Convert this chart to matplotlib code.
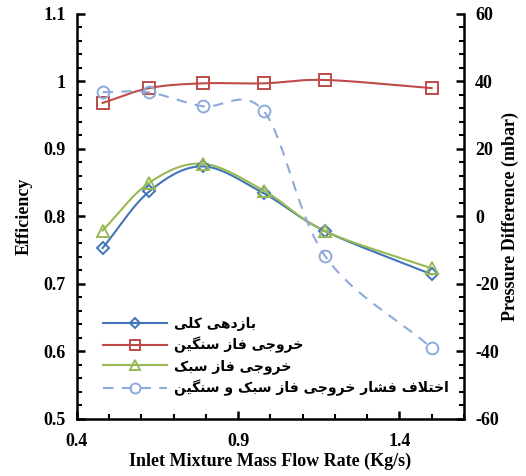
import numpy as np
import matplotlib
matplotlib.use("Agg")
import matplotlib.pyplot as plt
from matplotlib.lines import Line2D
from matplotlib.ticker import MultipleLocator

# mass flow rate of the inlet mixture (kg/s)
flow = [0.48, 0.625, 0.79, 0.98, 1.17, 1.5]

# separation efficiencies
eff_total = [0.753, 0.837, 0.874, 0.834, 0.778, 0.714]
eff_heavy = [0.968, 0.990, 0.997, 0.997, 1.002, 0.990]
eff_light = [0.779, 0.850, 0.878, 0.838, 0.778, 0.723]

# outlet pressure difference between light and heavy phase (mbar)
dp = [36.8, 36.7, 32.6, 31.1, -11.8, -39.0]

labels = [
    "بازدهی کلی",
    "خروجی فاز سنگین",
    "خروجی فاز سبک",
    "اختلاف فشار خروجی فاز سبک و سنگین",
]

# --- minimal Persian shaping (matplotlib has no RTL / joining support) ---
FORMS = {  # isolated, final, initial, medial
    "ا": ("\uFE8D", "\uFE8E", None, None),
    "ب": ("\uFE8F", "\uFE90", "\uFE91", "\uFE92"),
    "ت": ("\uFE95", "\uFE96", "\uFE97", "\uFE98"),
    "ج": ("\uFE9D", "\uFE9E", "\uFE9F", "\uFEA0"),
    "خ": ("\uFEA5", "\uFEA6", "\uFEA7", "\uFEA8"),
    "د": ("\uFEA9", "\uFEAA", None, None),
    "ر": ("\uFEAD", "\uFEAE", None, None),
    "ز": ("\uFEAF", "\uFEB0", None, None),
    "س": ("\uFEB1", "\uFEB2", "\uFEB3", "\uFEB4"),
    "ش": ("\uFEB5", "\uFEB6", "\uFEB7", "\uFEB8"),
    "ف": ("\uFED1", "\uFED2", "\uFED3", "\uFED4"),
    "ک": ("\uFB8E", "\uFB8F", "\uFB90", "\uFB91"),
    "گ": ("\uFB92", "\uFB93", "\uFB94", "\uFB95"),
    "ل": ("\uFEDD", "\uFEDE", "\uFEDF", "\uFEE0"),
    "ن": ("\uFEE5", "\uFEE6", "\uFEE7", "\uFEE8"),
    "ه": ("\uFEE9", "\uFEEA", "\uFEEB", "\uFEEC"),
    "و": ("\uFEED", "\uFEEE", None, None),
    "ی": ("\uFBFC", "\uFBFD", "\uFBFE", "\uFBFF"),
}
LAM_ALEF = ("\uFEFB", "\uFEFC")


def dual(c):
    return c in FORMS and FORMS[c][2] is not None


def shape(text):
    chars = list(text)
    out = []
    i = 0
    while i < len(chars):
        c = chars[i]
        prev = chars[i - 1] if i > 0 else " "
        joins_prev = dual(prev) and c in FORMS
        if c == "ل" and i + 1 < len(chars) and chars[i + 1] == "ا":
            out.append(LAM_ALEF[1] if joins_prev else LAM_ALEF[0])
            i += 2
            continue
        if c not in FORMS:
            out.append(c)
            i += 1
            continue
        nxt = chars[i + 1] if i + 1 < len(chars) else " "
        joins_next = dual(c) and nxt in FORMS
        iso, fin, ini, med = FORMS[c]
        if joins_prev and joins_next:
            out.append(med)
        elif joins_prev:
            out.append(fin)
        elif joins_next:
            out.append(ini)
        else:
            out.append(iso)
        i += 1
    return "".join(reversed(out))


def smooth(x, y, n=30):
    # Catmull-Rom curve through the points, like spreadsheet "smoothed lines"
    x = np.asarray(x, float)
    y = np.asarray(y, float)
    px = np.concatenate([[2 * x[0] - x[1]], x, [2 * x[-1] - x[-2]]])
    py = np.concatenate([[2 * y[0] - y[1]], y, [2 * y[-1] - y[-2]]])
    xs, ys = [], []
    t = np.linspace(0, 1, n)
    for k in range(1, len(px) - 2):
        for p, acc in ((px, xs), (py, ys)):
            p0, p1, p2, p3 = p[k - 1], p[k], p[k + 1], p[k + 2]
            acc.extend(0.5 * ((2 * p1) + (-p0 + p2) * t
                              + (2 * p0 - 5 * p1 + 4 * p2 - p3) * t ** 2
                              + (-p0 + 3 * p1 - 3 * p2 + p3) * t ** 3))
    return np.array(xs), np.array(ys)


plt.rcParams["font.family"] = ["Liberation Serif"]
plt.rcParams["font.weight"] = "bold"
plt.rcParams["axes.unicode_minus"] = False

fig = plt.figure(figsize=(5.26, 4.76), dpi=100)
ax = fig.add_axes([0.146, 0.12, 0.736, 0.851])
ax2 = ax.twinx()

C_BLUE = "#4275b8"
C_RED = "#be4b48"
C_GREEN = "#98b954"
C_LBLUE = "#8eaadb"

series = [
    (ax, eff_total, C_BLUE, "D", 6.5, "-"),
    (ax, eff_heavy, C_RED, "s", 8.5, "-"),
    (ax, eff_light, C_GREEN, "^", 8, "-"),
    (ax2, dp, C_LBLUE, "o", 8.5, (0, (5, 4))),
]
handles = []
for (a, ys, col, mk, ms, ls), lab in zip(series, labels):
    sx, sy = smooth(flow, ys)
    a.plot(sx, sy, color=col, lw=1.5, ls=ls, zorder=2)
    a.plot(flow, ys, ls="none", marker=mk, ms=ms, mfc="none",
           mec=col, mew=1.4, zorder=3)
    handles.append(Line2D([], [], color=col, lw=1.5, ls=ls, marker=mk,
                          ms=ms * 0.85, mfc="none", mec=col, mew=1.4))

ax.set_xlim(0.4, 1.6)
ax.set_ylim(0.5, 1.1)
ax2.set_ylim(-60, 60)
ax.xaxis.set_minor_locator(MultipleLocator(0.1))
ax.yaxis.set_minor_locator(MultipleLocator(0.02))
ax2.yaxis.set_major_locator(MultipleLocator(20))
ax2.yaxis.set_minor_locator(MultipleLocator(4))
ax.set_xticks([0.4, 0.9, 1.4])
ax.set_xticklabels(["0.4", "0.9", "1.4"])
ax.set_yticks([0.5, 0.6, 0.7, 0.8, 0.9, 1.0, 1.1])
ax.set_yticklabels(["0.5", "0.6", "0.7", "0.8", "0.9", "1", "1.1"])

for a in (ax, ax2):
    a.spines["top"].set_visible(False)
    for s in a.spines.values():
        s.set_linewidth(1.8)
    a.tick_params(which="major", direction="in", length=6, width=1.8,
                  labelsize=13, pad=8)
    a.tick_params(which="minor", direction="in", length=3.5, width=1.5)
ax.spines["right"].set_visible(False)
ax2.spines["left"].set_visible(False)
ax2.spines["bottom"].set_visible(False)
ax.tick_params(axis="x", pad=10)

ax.set_xlabel("Inlet Mixture Mass Flow Rate (Kg/s)", fontsize=13,
              fontweight="bold", labelpad=2)
ax.set_ylabel("Efficiency", fontsize=13, fontweight="bold", labelpad=8)
ax2.set_ylabel("Pressure Difference (mbar)", fontsize=13,
               fontweight="bold", labelpad=2)

leg = ax.legend(handles, [shape(t) for t in labels], loc="lower left",
                bbox_to_anchor=(0.035, 0.025), frameon=False,
                handlelength=4.6, handletextpad=0.5, labelspacing=0.42,
                prop={"family": "DejaVu Sans", "weight": "bold", "size": 10})

fig.savefig("out.png", dpi=100)
